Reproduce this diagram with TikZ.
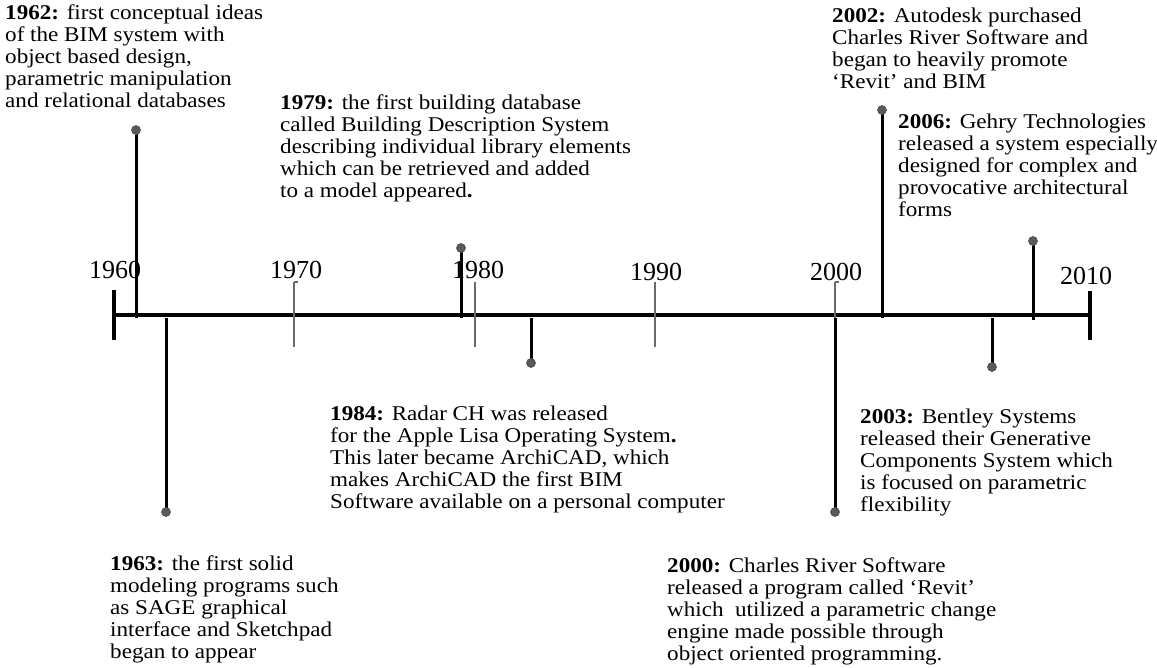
\documentclass[tikz,border=0pt]{standalone}
\usepackage{fontspec}
\setmainfont{Liberation Serif}
\newfontfamily\descfont[FakeStretch=1.1]{Liberation Serif}
\definecolor{dotgray}{HTML}{5A5A5A}
\definecolor{tickgray}{HTML}{6A6A6A}
\begin{document}
\begin{tikzpicture}[x=1pt,y=-1pt,
  axisline/.style={line width=4pt,black},
  tickline/.style={line width=1.6pt,tickgray},
  eventline/.style={line width=3pt,black},
  dotnode/.style={circle,fill=dotgray,draw=black!70,line width=0.6pt,minimum size=9pt,inner sep=0pt},
  yearlabel/.style={font=\fontsize{26}{28}\selectfont,inner sep=0pt,anchor=center},
  desc/.style={font=\descfont\fontsize{21}{22}\selectfont,inner sep=0pt,anchor=north west,align=left}]
\useasboundingbox (0,0) rectangle (1157,667);
% axis
\coordinate (axL) at (114,315);
\coordinate (axR) at (1090,315);
\draw[axisline] (axL) -- (axR);
\coordinate (capLt) at (114,290); \coordinate (capLb) at (114,340);
\coordinate (capRt) at (1090,291); \coordinate (capRb) at (1090,340);
\draw[axisline] (capLt) -- (capLb);
\draw[axisline] (capRt) -- (capRb);
% decade ticks
\foreach \n/\x in {t70/294,t80/475,t90/655,t00/835}{
  \coordinate (\n top) at (\x,282);
  \coordinate (\n bot) at (\x,347);
  \draw[tickline] (\n top) -- (\n bot);
}
\coordinate (h70) at (298,282);
\coordinate (h00) at (839,282);
\draw[tickline] (t70top) -- (h70);
\draw[tickline] (t00top) -- (h00);
% year labels
\node[yearlabel] (y1960) at (115,270) {1960};
\node[yearlabel] (y1970) at (296,270) {1970};
\node[yearlabel] (y1980) at (478,270) {1980};
\node[yearlabel] (y1990) at (656,272) {1990};
\node[yearlabel] (y2000) at (836,272) {2000};
\node[yearlabel] (y2010) at (1086,276) {2010};
% event points
\coordinate (p62) at (136,130); \coordinate (a62) at (136,318);
\coordinate (p63) at (166,512); \coordinate (a63) at (166,318);
\coordinate (p79) at (461,248); \coordinate (a79) at (461,318);
\coordinate (p84) at (531,363); \coordinate (a84) at (531,318);
\coordinate (p00) at (835,512); \coordinate (a00) at (835,318);
\coordinate (p02) at (882,110); \coordinate (a02) at (882,318);
\coordinate (p03) at (992,367); \coordinate (a03) at (992,318);
\coordinate (p06) at (1033,241); \coordinate (a06) at (1033,320);
\foreach \e in {62,63,79,84,00,02,03,06}{
  \draw[eventline] (p\e) -- (a\e);
}
\foreach \e in {62,63,79,84,00,02,03,06}{
  \node[dotnode] (d\e) at (p\e) {};
}
% descriptions
\node[desc] (e62) at (5,4.5) {\textbf{1962:} first conceptual ideas\\of the BIM system with\\object based design,\\parametric manipulation\\and relational databases};
\node[desc] (e63) at (110,555.5) {\textbf{1963:} the first solid\\modeling programs such\\as SAGE graphical\\interface and Sketchpad\\began to appear};
\node[desc] (e79) at (280,94.5) {\textbf{1979:} the first building database\\called Building Description System\\describing individual library elements\\which can be retrieved and added\\to a model appeared\textbf{.}};
\node[desc] (e84) at (330,405.5) {\textbf{1984:} Radar CH was released\\for the Apple Lisa Operating System\textbf{.}\\This later became ArchiCAD, which\\makes ArchiCAD the first BIM\\Software available on a personal computer};
\node[desc] (e00) at (667,557.5) {\textbf{2000:} Charles River Software\\released a program called ‘Revit’\\which\ \ utilized a parametric change\\engine made possible through\\object oriented programming.};
\node[desc] (e02) at (832,7.5) {\textbf{2002:} Autodesk purchased\\Charles River Software and\\began to heavily promote\\‘Revit’ and BIM};
\node[desc] (e03) at (860,408.5) {\textbf{2003:} Bentley Systems\\released their Generative\\Components System which\\is focused on parametric\\flexibility};
\node[desc] (e06) at (898,113.5) {\textbf{2006:} Gehry Technologies\\released a system especially\\designed for complex and\\provocative architectural\\forms};
\end{tikzpicture}
\end{document}
